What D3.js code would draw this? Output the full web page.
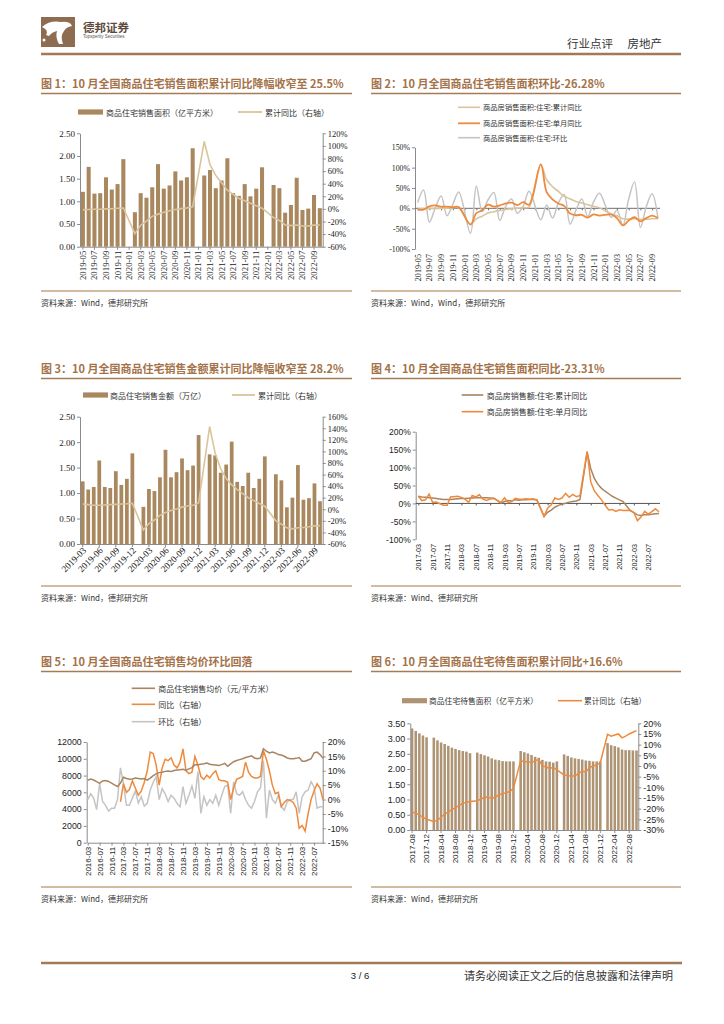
<!DOCTYPE html>
<html><head><meta charset="utf-8">
<script src="https://cdn.jsdelivr.net/npm/d3@7"></script>
<style>html,body{margin:0;padding:0;background:#fff}svg{display:block}</style>
</head><body>
<svg id="page" width="724" height="1024"></svg>
<script>
// ---------- helpers for category labels ----------
function months(a, b) {
  const out = []; let [y, m] = a.split('-').map(Number); const [y2, m2] = b.split('-').map(Number);
  while (y < y2 || (y === y2 && m <= m2)) { out.push(y + '-' + String(m).padStart(2, '0')); m++; if (m > 12) { m = 1; y++; } }
  return out;
}

// ---------- DATA ----------
// Chart 1: residential sales area (100m sqm) & cumulative YoY (%)
const c1Cats = months('2019-05', '2022-10');
const c1Area = [1.21,1.76,1.17,1.18,1.53,1.26,1.38,1.93,
  null,0.76,1.18,1.08,1.31,1.82,1.28,1.35,1.66,1.46,1.53,2.17,
  null,1.57,1.69,1.29,1.46,1.95,1.18,1.12,1.38,1.11,1.28,1.75,
  null,1.36,1.29,0.75,0.92,1.52,0.81,0.84,1.14,0.85];
const c1CumYoY = [-1.6,-1.0,-0.6,-0.6,0.1,0.3,1.1,1.5,
  null,-39.2,-25.9,-19.3,-11.8,-8.3,-5.4,-2.9,-1.0,0.4,1.6,3.2,
  null,107,70.3,53.2,41.4,29.8,23.1,16.6,12.9,9.0,4.9,1.1,
  null,-13.8,-18.3,-25.5,-26.6,-25.6,-27.1,-27.0,-25.8,-25.5];
const c1LeftTicks = [0,0.5,1,1.5,2,2.5];
const c1RightTicks = [-60,-40,-20,0,20,40,60,80,100,120];

// Chart 2: cumulative YoY, single-month YoY, MoM (%)
const c2Cats = months('2019-05', '2022-10');
const c2CumYoY = [-1.6,-1.0,-0.6,-0.6,0.1,0.3,1.1,1.5,
  null,-39.2,-25.9,-19.3,-11.8,-8.3,-5.4,-2.9,-1.0,0.4,1.6,3.2,
  null,107,70.3,53.2,41.4,29.8,23.1,16.6,12.9,9.0,4.9,1.1,
  null,-13.8,-18.3,-25.5,-26.6,-25.6,-27.1,-27.0,-25.8,-25.5];
const c2MonthYoY = [-3,-3,5,7,4,4,3,3,
  null,-40,-12,-5,9,4,7,12,14,8,15,9,
  null,108,40,22,12,6,-13,-17,-16,-23,-15,-18,
  null,-15,-24,-42,-30,-22,-32,-24,-18,-24];
const c2MoM = [14,45,-34,1,30,-18,10,40,
  null,-61,55,-8,21,39,-30,5,23,-12,5,42,
  null,-28,8,-24,13,34,-39,-5,23,-20,15,37,
  null,-22,-5,-42,23,65,-47,4,36,-25];
const c2Ticks = [-100,-50,0,50,100,150];

// Chart 3: residential sales amount (trillion) & cumulative YoY (%)
const c3Cats = months('2019-03', '2022-10');
const c3Amount = [1.23,1.07,1.12,1.64,1.12,1.10,1.43,1.16,1.28,1.78,
  null,0.73,1.08,1.04,1.31,1.85,1.31,1.41,1.68,1.45,1.54,2.14,
  null,1.76,1.74,1.40,1.56,2.01,1.22,1.14,1.40,1.10,1.28,1.72,
  null,1.37,1.25,0.72,0.91,1.55,0.87,0.90,1.19,0.84];
const c3CumYoY = [9,8,7,7,7.5,8,8.5,9,9.5,10.3,
  null,-35.9,-24.7,-18.6,-10.6,-5.5,-2.1,0.6,3.7,5.6,6.9,10.8,
  null,143,97,70,53,42,34,27,20,15,10,5.3,
  null,-20,-25.6,-32,-33.8,-31.8,-31.4,-30.3,-28.6,-28.2];
const c3LeftTicks = [0,0.5,1,1.5,2,2.5];
const c3RightTicks = [-60,-40,-20,0,20,40,60,80,100,120,140,160];

// Chart 4: sales amount cumulative YoY & single-month YoY (%)
const c4Cats = months('2017-03', '2022-10');
const c4CumYoY = [20,18,17,16,15,14,12.5,11,11,11.3,
  null,13,13.5,14,14.5,15,15.5,16,16,15.5,15,14.7,
  null,1,5.5,8,6.5,10.5,9,10,10.5,11,11,10.3,
  null,-35.9,-24.7,-18.6,-10.6,-5.5,-2.1,0.6,3.7,5.6,6.9,10.8,
  null,143,97,70,53,42,34,27,20,15,10,5.3,
  null,-20,-25.6,-32,-33.8,-31.8,-31.4,-30.3,-28.6,-28.2];
const c4MonthYoY = [20,8,10,26,3,4,-1,-5,-5,18,
  null,20,17,12,3,22,18,24,12,8,12,14,
  null,3,16,2,5,14,12,12,13,12,13,9,
  null,-36,-13,-4,15,11,15,28,17,25,19,22,
  null,145,60,35,22,10,-5,-18,-17,-22,-18,-20,
  null,-19,-25,-48,-38,-22,-30,-23,-15,-23.3];
const c4Ticks = [-100,-50,0,50,100,150,200];

// Chart 5: average price (yuan/sqm), YoY (%), MoM (%)
const c5Cats = months('2016-03', '2022-10');
const c5Price = [7430,7590,7470,7270,7070,7350,7400,7300,7100,6900,
  6700,7100,7800,7650,7550,7600,7700,7650,7600,7650,7450,7700,
  8000,8200,8350,8400,8500,8550,8500,8600,8650,8700,8750,8650,
  8800,8950,9300,9300,9350,9400,9500,9350,9300,9250,9200,9300,
  9450,9100,9400,9650,9800,9900,10000,10150,10250,10350,10100,10000,
  10100,11200,10900,10700,10800,10700,10500,10450,10300,10100,10000,10000,
  10050,10150,9700,9700,9850,10000,10700,10800,10500,10050];
const c5YoY = [null,null,null,null,null,null,null,null,null,null,
  null,-0.8,5.5,2.5,3.5,6.5,4,1.5,3,6,10,16.5,
  16,12,5,11,14,13.5,14.5,12,11,13,17.6,10,
  9,9.5,15,12,8,7,8.5,7.5,9,10,7,6.5,
  6.5,6,0,4,7,7.5,8,13,9.5,8,7.5,7.5,
  8,17,14,10,5,2,2.5,-2.5,-1,0,-0.3,-1,
  -3,-10,-9,-11,-5,0,3,5.5,4,0];
const c5MoM = [0,2,0.5,-3.5,5.5,-0.7,-2,-4,-3,-3,
  0,11,5.5,-2,-2,0.5,3,-1.3,1,-2.3,-1.3,3.3,
  6,8,0,3.8,2,-0.7,1.5,0.5,-1.3,-2.5,4.5,-1.3,
  1.5,4.7,0.4,9.7,-4.8,1,-2,0,-1.3,1.5,-2,1.5,
  4.5,5,-4.8,6.2,2,1.5,2.7,0,-2,-3,-0.7,2.7,
  4,13.5,-6.5,3.3,0,-1.3,1.5,-2.5,-3.7,-0.7,0,0,
  2.7,-4.8,1,2.7,3.3,6.2,4.4,-3,-2.5,-2.5];
const c5LeftTicks = [0,2000,4000,6000,8000,10000,12000];
const c5RightTicks = [-15,-10,-5,0,5,10,15,20];

// Chart 6: residential area for sale (100m sqm) & cumulative YoY (%)
const c6Cats = months('2017-08', '2022-10');
const c6Stock = [3.33,3.25,3.17,3.10,3.04,
  null,3.03,2.94,2.87,2.82,2.76,2.70,2.66,2.62,2.59,2.57,2.52,
  null,2.54,2.49,2.45,2.41,2.35,2.31,2.29,2.26,2.25,2.25,2.25,
  null,2.59,2.55,2.51,2.46,2.40,2.37,2.30,2.25,2.24,2.21,2.25,
  null,2.48,2.43,2.38,2.35,2.33,2.31,2.28,2.27,2.25,2.25,2.25,
  null,2.85,2.78,2.75,2.71,2.64,2.62,2.62,2.61,2.61];
const c6YoY = [-21.7,-22,-23,-24,-25,
  null,-26,-25.5,-24,-22.5,-21.5,-20.5,-19.5,-18.5,-17.5,-17,-16.6,
  null,-16.3,-15.5,-14.8,-14.5,-15.3,-14.5,-13.5,-13,-12.5,-12,-10.5,
  null,2.5,2,2,1.5,2.5,3,0,-0.5,-1,-0.8,-1.8,
  null,-4.2,-4.5,-4.8,-4.6,-3.5,-2.5,-2.8,-0.8,0,0.5,1.5,
  null,14.8,14,14.5,15,13.2,14,15,15.8,16.6];
const c6LeftTicks = [0,0.5,1,1.5,2,2.5,3,3.5];
const c6RightTicks = [-30,-25,-20,-15,-10,-5,0,5,10,15,20];

// ---------- STYLE ----------
const CJK = '"Noto Sans CJK SC","Noto Sans",sans-serif';
const SERIF = '"Liberation Serif","DejaVu Serif",serif';
const SANS = '"Liberation Sans","DejaVu Sans",sans-serif';
const BAR = '#a9885f', BAR6 = '#ae9474', TAN = '#d9c59d', ORANGE = '#ef8a3d',
      BROWNL = '#a8845f', GREY = '#c4c4c4', AXIS = '#8c8c8c', BRAND = '#a27a58', TITLE = '#a47248', SRC = '#c5a583';
const L0 = 41, L1 = 352, R0 = 371, R1 = 681;

const svg = d3.select('#page');

// ---------- HEADER / FOOTER ----------
svg.append('rect').attr('x',41).attr('y',17).attr('width',34).attr('height',30).attr('fill','#8d6c51');
svg.append('path').attr('d','M42,27 Q50,20 61,22 Q70,21 72,26 Q66,27 64,31 Q60,36 63,44 L59,44 Q55,37 57,31 Q52,32 49,36 L46,35 Q49,30 42,27 Z').attr('fill','#fff');
svg.append('circle').attr('cx',44).attr('cy',40).attr('r',1.5).attr('fill','#fff');
svg.append('text').attr('x',83).attr('y',27).attr('dominant-baseline','central').attr('font-family',CJK).attr('font-weight','bold').attr('font-size',11.5).attr('fill','#5e4a3c').text('德邦证券');
svg.append('text').attr('x',83).attr('y',36).attr('dominant-baseline','central').attr('font-family',SANS).attr('font-size',4.5).attr('fill','#555').text('Topsperity Securities');
svg.append('text').attr('x',567).attr('y',43).attr('dominant-baseline','central').attr('font-family',CJK).attr('font-size',11.5).attr('fill','#333').text('行业点评');
svg.append('text').attr('x',662).attr('y',43).attr('text-anchor','end').attr('dominant-baseline','central').attr('font-family',CJK).attr('font-size',11.5).attr('fill','#333').text('房地产');
svg.append('line').attr('x1',L0).attr('x2',R1).attr('y1',54).attr('y2',54).attr('stroke',BRAND).attr('stroke-width',2.5);
svg.append('line').attr('x1',L0).attr('x2',R1+1).attr('y1',963).attr('y2',963).attr('stroke',BRAND).attr('stroke-width',2.5);
svg.append('text').attr('x',360).attr('y',975).attr('text-anchor','middle').attr('dominant-baseline','central').attr('font-family',SANS).attr('font-size',9.5).attr('fill','#222').text('3 / 6');
svg.append('text').attr('x',464).attr('y',975).attr('dominant-baseline','central').attr('font-family',CJK).attr('font-size',11).attr('fill','#333').text('请务必阅读正文之后的信息披露和法律声明');

// ---------- TITLES & SOURCES ----------
function title(x, x2, y, t) {
  svg.append('text').attr('x',x).attr('y',y).attr('dominant-baseline','central').attr('font-family',CJK).attr('font-weight','bold').attr('font-size',11).attr('fill',TITLE).text(t);
  svg.append('line').attr('x1',x).attr('x2',x2).attr('y1',y+10.5).attr('y2',y+10.5).attr('stroke','#a57b55').attr('stroke-width',1.5);
}
function source(x, x2, y, t) {
  svg.append('line').attr('x1',x).attr('x2',x2).attr('y1',y).attr('y2',y).attr('stroke',SRC).attr('stroke-width',1.5);
  svg.append('text').attr('x',x).attr('y',y+11).attr('dominant-baseline','central').attr('font-family',CJK).attr('font-size',8).attr('fill','#333').text(t);
}
title(L0,L1,83,'图 1：10 月全国商品住宅销售面积累计同比降幅收窄至 25.5%');
title(R0,R1,83,'图 2：10 月全国商品住宅销售面积环比-26.28%');
title(L0,L1,368,'图 3：10 月全国商品住宅销售金额累计同比降幅收窄至 28.2%');
title(R0,R1,368,'图 4：10 月全国商品住宅销售面积同比-23.31%');
title(L0,L1,661,'图 5：10 月全国商品住宅销售均价环比回落');
title(R0,R1,661,'图 6：10 月全国商品住宅待售面积累计同比+16.6%');
source(L0,L1,291,'资料来源：Wind，德邦研究所');
source(R0,R1,291,'资料来源：Wind，Wind，德邦研究所');
source(L0,L1,586,'资料来源：Wind，德邦研究所');
source(R0,R1,586,'资料来源：Wind、德邦研究所');
source(L0,L1,887,'资料来源：Wind，德邦研究所');
source(R0,R1,887,'资料来源：Wind，德邦研究所');

// ---------- LEGEND HELPERS ----------
function legendBar(x, y, w, tx, label, color, size) {
  svg.append('rect').attr('x',x).attr('y',y-2.6).attr('width',w).attr('height',5.2).attr('fill',color);
  svg.append('text').attr('x',tx).attr('y',y).attr('dominant-baseline','central').attr('font-family',CJK).attr('font-size',size).attr('fill','#333').text(label);
}
function legendLine(x, y, w, tx, label, color, size, sw) {
  svg.append('line').attr('x1',x).attr('x2',x+w).attr('y1',y).attr('y2',y).attr('stroke',color).attr('stroke-width',sw||1.6);
  svg.append('text').attr('x',tx).attr('y',y).attr('dominant-baseline','central').attr('font-family',CJK).attr('font-size',size).attr('fill','#333').text(label);
}

// ---------- AXIS HELPERS ----------
function yAxis(g, scale, ticks, fmt, x, side, font, size) {
  const ax = (side === 'left' ? d3.axisLeft(scale) : d3.axisRight(scale))
    .tickValues(ticks).tickFormat(fmt).tickSize(3).tickSizeOuter(0).tickPadding(2);
  const a = g.append('g').attr('transform', `translate(${x},0)`).call(ax);
  a.select('.domain').attr('stroke', AXIS);
  a.selectAll('.tick line').attr('stroke', AXIS);
  a.selectAll('text').attr('font-family', font).attr('font-size', size).attr('fill', '#222');
  return a;
}
function xAxis(g, scale, every, y, rot, font, size, opts) {
  opts = opts || {};
  const vals = scale.domain().filter((c, i) => i % every === 0);
  const ax = d3.axisBottom(scale).tickValues(vals).tickSize(opts.tick == null ? 3 : opts.tick).tickSizeOuter(0);
  const a = g.append('g').attr('transform', `translate(0,${y})`).call(ax);
  if (opts.noDomain) a.select('.domain').remove(); else a.select('.domain').attr('stroke', AXIS);
  a.selectAll('.tick line').attr('stroke', opts.tickColor || AXIS);
  const off = opts.offset == null ? 4 : opts.offset;
  a.selectAll('text').attr('font-family', font).attr('font-size', size).attr('fill', '#222')
    .attr('text-anchor', 'end').attr('dy', null).attr('y', null).attr('x', null)
    .attr('transform', rot === -90 ? `translate(0,${off}) rotate(-90)` : `translate(2,${off}) rotate(${rot})`)
    .attr('dominant-baseline', 'central');
  return a;
}
const pts = (cats, vals) => cats.map((c, i) => ({ c, v: vals[i] })).filter(d => d.v != null);
const pctFmt = d => d + '%';

// ---------- CHART 1 ----------
{
  const g = svg.append('g');
  const x = d3.scaleBand().domain(c1Cats).range([80, 322.7]).paddingInner(0.3).paddingOuter(0.15);
  const yL = d3.scaleLinear().domain([0, 2.5]).range([246.7, 133.3]);
  const yR = d3.scaleLinear().domain([-60, 120]).range([246.7, 133.3]);
  g.selectAll('rect.b').data(pts(c1Cats, c1Area)).join('rect')
    .attr('x', d => x(d.c)).attr('width', x.bandwidth()).attr('y', d => yL(d.v)).attr('height', d => yL(0) - yL(d.v)).attr('fill', BAR);
  yAxis(g, yL, c1LeftTicks, d3.format('.2f'), 80, 'left', SERIF, 9);
  yAxis(g, yR, c1RightTicks, pctFmt, 322.7, 'right', SERIF, 8.5);
  xAxis(g, x, 2, 246.7, -90, SERIF, 8.8, {});
  g.append('path').datum(pts(c1Cats, c1CumYoY))
    .attr('d', d3.line().x(d => x(d.c) + x.bandwidth() / 2).y(d => yR(d.v)))
    .attr('fill', 'none').attr('stroke', TAN).attr('stroke-width', 1.6);
  legendBar(78, 112, 25, 106, '商品住宅销售面积（亿平方米）', BAR, 8);
  legendLine(238, 112, 24, 265, '累计同比（右轴）', TAN, 8, 1.8);
}

// ---------- CHART 2 ----------
{
  const g = svg.append('g');
  const x = d3.scalePoint().domain(c2Cats).range([417.7, 658]);
  const y = d3.scaleLinear().domain([-100, 150]).range([249, 147.3]);
  yAxis(g, y, c2Ticks, pctFmt, 415, 'left', SERIF, 7.8);
  g.append('line').attr('x1', 415).attr('x2', 660).attr('y1', y(0)).attr('y2', y(0)).attr('stroke', '#6f6f6f').attr('stroke-width', 1);
  const zt = d3.axisBottom(x).tickValues(c2Cats.filter((c, i) => i % 2 === 0)).tickSize(2).tickFormat('');
  const za = g.append('g').attr('transform', `translate(0,${y(0)})`).call(zt);
  za.select('.domain').remove(); za.selectAll('.tick line').attr('stroke', '#6f6f6f');
  xAxis(g, x, 2, 251, -90, SERIF, 8.2, { tick: 0, noDomain: true, offset: 3 });
  const ln = d3.line().curve(d3.curveCatmullRom.alpha(0.5)).x(d => x(d.c)).y(d => y(d.v));
  g.append('path').datum(pts(c2Cats, c2MoM)).attr('d', ln).attr('fill', 'none').attr('stroke', GREY).attr('stroke-width', 1.5);
  g.append('path').datum(pts(c2Cats, c2CumYoY)).attr('d', ln).attr('fill', 'none').attr('stroke', TAN).attr('stroke-width', 1.6);
  g.append('path').datum(pts(c2Cats, c2MonthYoY)).attr('d', ln).attr('fill', 'none').attr('stroke', ORANGE).attr('stroke-width', 1.8);
  legendLine(458, 107.3, 22, 483, '商品房销售面积:住宅:累计同比', TAN, 7.3);
  legendLine(458, 123.3, 22, 483, '商品房销售面积:住宅:单月同比', ORANGE, 7.3, 1.8);
  legendLine(458, 137.7, 22, 483, '商品房销售面积:住宅:环比', GREY, 7.3);
}

// ---------- CHART 3 ----------
{
  const g = svg.append('g');
  const x = d3.scaleBand().domain(c3Cats).range([80, 322.7]).paddingInner(0.32).paddingOuter(0.15);
  const yL = d3.scaleLinear().domain([0, 2.5]).range([544, 416.7]);
  const yR = d3.scaleLinear().domain([-60, 160]).range([544, 416.7]);
  g.selectAll('rect.b').data(pts(c3Cats, c3Amount)).join('rect')
    .attr('x', d => x(d.c)).attr('width', x.bandwidth()).attr('y', d => yL(d.v)).attr('height', d => yL(0) - yL(d.v)).attr('fill', BAR);
  yAxis(g, yL, c3LeftTicks, d3.format('.2f'), 80, 'left', SERIF, 9);
  yAxis(g, yR, c3RightTicks, pctFmt, 322.7, 'right', SERIF, 8.5);
  xAxis(g, x, 3, 544, -45, SERIF, 9.2, { offset: 5 });
  g.append('path').datum(pts(c3Cats, c3CumYoY))
    .attr('d', d3.line().x(d => x(d.c) + x.bandwidth() / 2).y(d => yR(d.v)))
    .attr('fill', 'none').attr('stroke', TAN).attr('stroke-width', 1.6);
  legendBar(83, 395, 25, 110, '商品住宅销售金额（万亿）', BAR, 8);
  legendLine(232, 395, 23, 258, '累计同比（右轴）', TAN, 8, 1.8);
}

// ---------- CHART 4 ----------
{
  const g = svg.append('g');
  const x = d3.scalePoint().domain(c4Cats).range([418.3, 659]);
  const y = d3.scaleLinear().domain([-100, 200]).range([539.3, 431.7]);
  yAxis(g, y, c4Ticks, pctFmt, 415.7, 'left', SANS, 8.5);
  g.append('line').attr('x1', 415.7).attr('x2', 660).attr('y1', y(0)).attr('y2', y(0)).attr('stroke', '#555').attr('stroke-width', 1);
  const zt = d3.axisBottom(x).tickValues(c4Cats.filter((c, i) => i % 4 === 0)).tickSize(2).tickFormat('');
  const za = g.append('g').attr('transform', `translate(0,${y(0)})`).call(zt);
  za.select('.domain').remove(); za.selectAll('.tick line').attr('stroke', '#555');
  xAxis(g, x, 4, 541, -90, SANS, 7.2, { tick: 0, noDomain: true, offset: 3 });
  const ln = d3.line().x(d => x(d.c)).y(d => y(d.v));
  g.append('path').datum(pts(c4Cats, c4CumYoY)).attr('d', ln).attr('fill', 'none').attr('stroke', BROWNL).attr('stroke-width', 1.5);
  g.append('path').datum(pts(c4Cats, c4MonthYoY)).attr('d', ln).attr('fill', 'none').attr('stroke', ORANGE).attr('stroke-width', 1.5);
  legendLine(461.7, 395, 21.6, 486.7, '商品房销售额:住宅:累计同比', BROWNL, 8);
  legendLine(461.7, 411.7, 21.6, 486.7, '商品房销售额:住宅:单月同比', ORANGE, 8);
}

// ---------- CHART 5 ----------
{
  const g = svg.append('g');
  const x = d3.scalePoint().domain(c5Cats).range([87.7, 323]);
  const yL = d3.scaleLinear().domain([0, 12000]).range([842.7, 742]);
  const yR = d3.scaleLinear().domain([-15, 20]).range([842.7, 742]);
  yAxis(g, yL, c5LeftTicks, d3.format('d'), 86.7, 'left', SANS, 8.8);
  yAxis(g, yR, c5RightTicks, pctFmt, 322.7, 'right', SANS, 8.8);
  xAxis(g, x, 4, 842.7, -90, SANS, 8, {});
  g.append('path').datum(pts(c5Cats, c5MoM)).attr('d', d3.line().x(d => x(d.c)).y(d => yR(d.v)))
    .attr('fill', 'none').attr('stroke', GREY).attr('stroke-width', 1.5);
  g.append('path').datum(pts(c5Cats, c5YoY)).attr('d', d3.line().x(d => x(d.c)).y(d => yR(d.v)))
    .attr('fill', 'none').attr('stroke', ORANGE).attr('stroke-width', 1.5);
  g.append('path').datum(pts(c5Cats, c5Price)).attr('d', d3.line().x(d => x(d.c)).y(d => yL(d.v)))
    .attr('fill', 'none').attr('stroke', BROWNL).attr('stroke-width', 1.5);
  legendLine(131.7, 688.3, 23.3, 158.3, '商品住宅销售均价（元/平方米）', BROWNL, 8);
  legendLine(131.7, 704.3, 23.3, 158.3, '同比（右轴）', ORANGE, 8);
  legendLine(131.7, 721.7, 23.3, 158.3, '环比（右轴）', GREY, 8);
}

// ---------- CHART 6 ----------
{
  const g = svg.append('g');
  const x = d3.scaleBand().domain(c6Cats).range([410.3, 638.3]).paddingInner(0.3).paddingOuter(0.15);
  const yL = d3.scaleLinear().domain([0, 3.5]).range([830, 723.3]);
  const yR = d3.scaleLinear().domain([-30, 20]).range([830, 723.3]);
  g.selectAll('rect.b').data(pts(c6Cats, c6Stock)).join('rect')
    .attr('x', d => x(d.c)).attr('width', x.bandwidth()).attr('y', d => yL(d.v)).attr('height', d => yL(0) - yL(d.v)).attr('fill', BAR6);
  yAxis(g, yL, c6LeftTicks, d3.format('.2f'), 410.3, 'left', SANS, 9);
  yAxis(g, yR, c6RightTicks, pctFmt, 638.3, 'right', SANS, 9);
  xAxis(g, x, 4, 830, -90, SANS, 8, {});
  g.append('path').datum(pts(c6Cats, c6YoY))
    .attr('d', d3.line().x(d => x(d.c) + x.bandwidth() / 2).y(d => yR(d.v)))
    .attr('fill', 'none').attr('stroke', ORANGE).attr('stroke-width', 1.5);
  legendBar(402, 700.7, 25, 429, '商品住宅待售面积（亿平方米）', BAR6, 7.8);
  legendLine(558, 700.7, 24, 584, '累计同比（右轴）', ORANGE, 7.8);
}
</script>
</body></html>
